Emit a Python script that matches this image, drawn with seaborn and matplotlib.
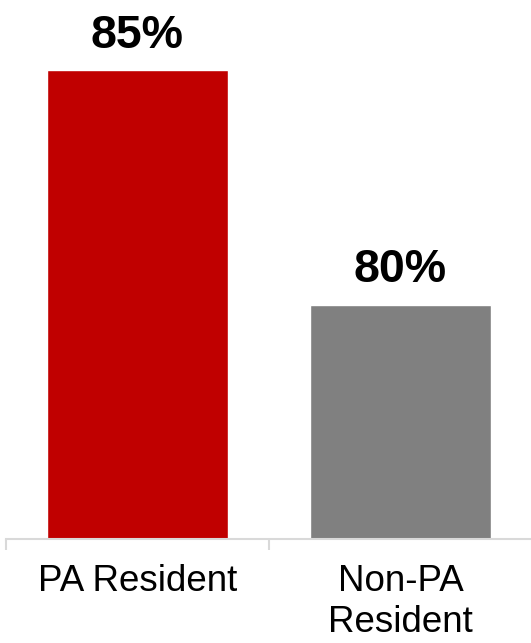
import matplotlib
matplotlib.use('Agg')
import matplotlib.pyplot as plt
import seaborn as sns
import pandas as pd

# Chart data
categories = ['PA Resident', 'Non-PA\nResident']
values = [85, 80]
colors = ['#C00000', '#808080']

df = pd.DataFrame({'group': categories, 'pct': values})

sns.set_style('white')
plt.rcParams['font.family'] = ['Liberation Sans', 'DejaVu Sans']

fig = plt.figure(figsize=(5.31, 6.43), dpi=100)
ax = fig.add_axes([6 / 531, 104 / 643, 526 / 531, 539 / 643])

sns.barplot(data=df, x='group', y='pct', hue='group', palette=colors,
            width=0.69, legend=False, ax=ax, saturation=1)

ax.set_ylim(75, 86.5)
ax.set_xlim(-0.5, 1.5)

for container in ax.containers:
    ax.bar_label(container, labels=[f'{v:.0f}%' for v in container.datavalues],
                 padding=9, fontsize=33.5, fontweight='bold', color='black')

# axis styling
for side in ['left', 'right', 'top']:
    ax.spines[side].set_visible(False)
ax.spines['bottom'].set_color('#D9D9D9')
ax.spines['bottom'].set_linewidth(1.5)
ax.spines['bottom'].set_clip_on(False)
ax.set_yticks([])
ax.set_xlabel('')
ax.set_ylabel('')
ax.set_xticks([-0.5, 0.5, 1.5], minor=True)
ax.tick_params(axis='x', which='minor', length=8, width=1.5, color='#D9D9D9', bottom=True)
ax.tick_params(axis='x', which='major', length=0, pad=18, labelsize=26.5, labelcolor='black')
for lbl in ax.get_xticklabels():
    lbl.set_linespacing(1.22)

fig.savefig('out.png', dpi=100)
